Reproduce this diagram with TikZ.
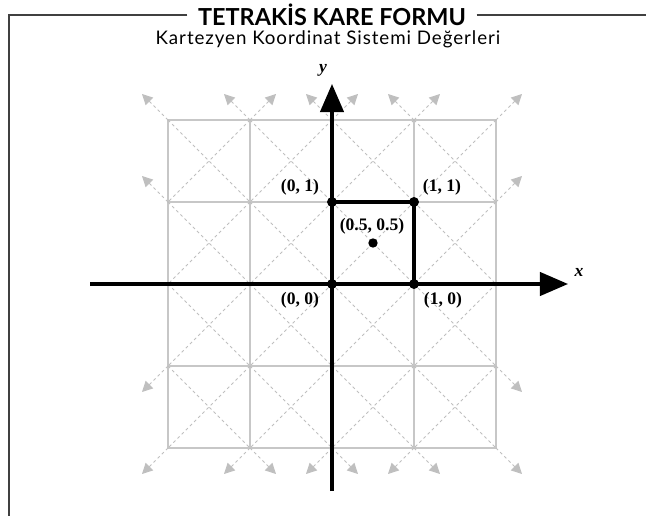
\documentclass[tikz,border=0pt]{standalone}
\usepackage{fontspec}
\setmainfont{Liberation Serif}
\newfontfamily\latofont{Lato}
\newfontfamily\latospaced{Lato}[LetterSpace=5]
\usetikzlibrary{arrows.meta}
\begin{document}
\begin{tikzpicture}[x=0.03cm,y=-0.03cm,
  gridline/.style={draw=black!22, line width=1pt},
  diag/.style={draw=black!25, line width=0.8pt, dash pattern=on 2.5pt off 2.5pt},
  outarrow/.style={diag, -{Triangle[length=9pt,width=9pt,fill=black!25]}},
  axis/.style={line width=2.7pt, -{Triangle[length=24pt,width=20pt]}},
  unitsq/.style={line width=2.6pt},
  dot/.style={circle, fill=black, inner sep=0pt, minimum size=8.5pt},
  lbl/.style={font=\bfseries\fontsize{15}{17}\selectfont, inner sep=1pt},
  axlbl/.style={font=\bfseries\itshape\fontsize{15}{17}\selectfont, inner sep=1pt},
  frame/.style={draw=black!75, line width=1.5pt}]
\useasboundingbox (0,0) rectangle (646,516);

% frame and titles
\node[anchor=base, font=\latofont\bfseries\fontsize{20}{22}\selectfont, inner sep=0pt] (title) at (332,25.5) {TETRAKİS KARE FORMU};
\node[anchor=base, font=\latospaced\fontsize{16}{18}\selectfont, inner sep=0pt] (subtitle) at (328,44.5) {Kartezyen Koordinat Sistemi Değerleri};
\draw[frame] ([xshift=-9pt]title.west |- 0,15) -- (9,15) -- (9,516);
\draw[frame] ([xshift=9pt]title.east |- 0,15) -- (646,15);

% grid
\foreach \k in {0,...,4} {
  \draw[gridline] (168+82*\k,120) -- (168+82*\k,448);
  \draw[gridline] (168,120+82*\k) -- (496,120+82*\k);
}
\foreach \a in {0,...,3} \foreach \b in {0,...,3} {
  \draw[diag] (168+82*\a,120+82*\b) -- ++(82,82);
  \draw[diag] (250+82*\a,120+82*\b) -- ++(-82,82);
}

% outward arrows
\foreach \xx in {168,250,332,414} {
  \draw[outarrow] (\xx,120) -- ++(-26,-26);
  \draw[outarrow] (\xx,448) -- ++(-26,26);
}
\foreach \xx in {250,332,414,496} {
  \draw[outarrow] (\xx,120) -- ++(26,-26);
  \draw[outarrow] (\xx,448) -- ++(26,26);
}
\draw[outarrow] (168,202) -- ++(-26,-26);
\draw[outarrow] (168,366) -- ++(-26,26);
\draw[outarrow] (496,202) -- ++(26,-26);
\draw[outarrow] (496,366) -- ++(26,26);

% axes
\coordinate (xs) at (90,284);
\coordinate (xe) at (568,284);
\coordinate (ys) at (332,491);
\coordinate (ye) at (332,84);
\draw[axis] (xs) -- (xe);
\draw[axis] (ys) -- (ye);
\node[axlbl] (xl) at (579,272) {x};
\node[axlbl] (yl) at (323,70) {y};

% unit square
\node[dot] (p00) at (332,284) {};
\node[dot] (p10) at (414,284) {};
\node[dot] (p01) at (332,202) {};
\node[dot] (p11) at (414,202) {};
\node[dot, minimum size=8pt] (pc) at (373,243) {};
\draw[unitsq] (p00.center) -- (p10.center) -- (p11.center) -- (p01.center) -- cycle;

% labels
\node[lbl] (l01) at (300,187) {(0, 1)};
\node[lbl] (l11) at (442,187) {(1, 1)};
\node[lbl] (lc) at (372,226) {(0.5, 0.5)};
\node[lbl] (l00) at (300,300) {(0, 0)};
\node[lbl] (l10) at (443,300) {(1, 0)};
\end{tikzpicture}
\end{document}
